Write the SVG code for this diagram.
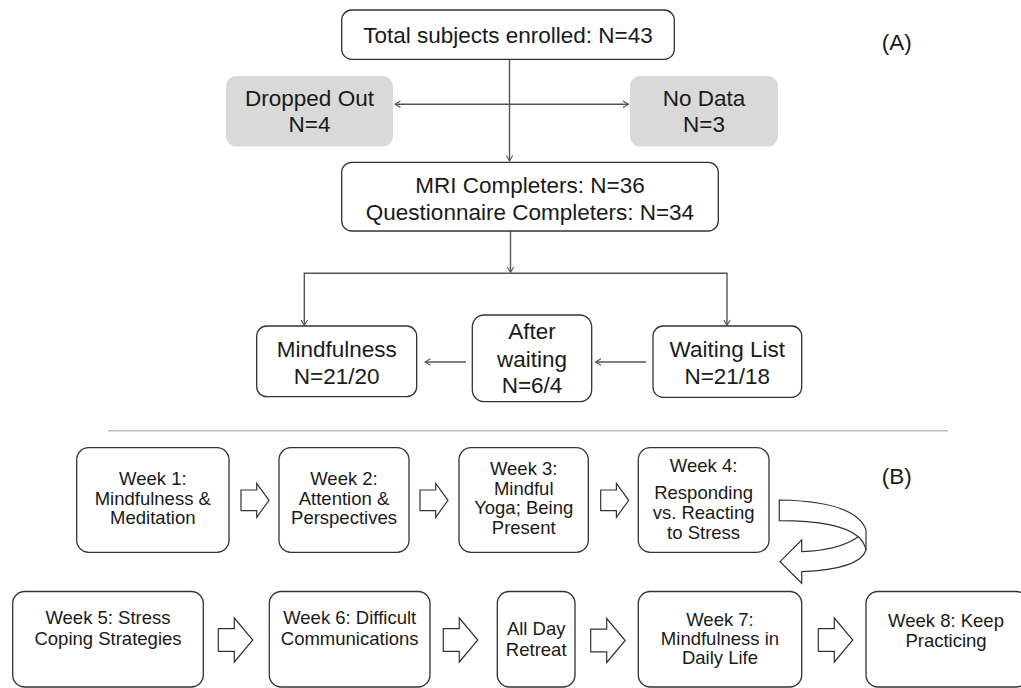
<svg xmlns="http://www.w3.org/2000/svg" width="1021" height="688" viewBox="0 0 1021 688">
<style>
text{font-family:"Liberation Sans",Arial,Helvetica,sans-serif;fill:#1a1a1a;text-anchor:middle}
.a{font-size:22.5px}
.b{font-size:18.5px}
.box{fill:#fff;stroke:#333;stroke-width:1.3}
.gray{fill:#d9d9d9;stroke:none}
.con{fill:none;stroke:#555;stroke-width:1.4}
.blk{fill:#fff;stroke:#333;stroke-width:1.2;stroke-linejoin:miter}
.sep{stroke:#bdbdbd;stroke-width:1.6}
</style>
<defs>
<marker id="ah" viewBox="0 0 8 8" refX="6.5" refY="4" markerWidth="8" markerHeight="8" markerUnits="userSpaceOnUse" orient="auto-start-reverse">
<path d="M1,0.8 L6.5,4 L1,7.2" fill="none" stroke="#555" stroke-width="1.1"/>
</marker>
<path id="ba1" d="M0,-10.3 H15.7 V-17 L28,0 L15.7,17 V10.3 H0 Z"/>
<path id="ba2" d="M0,-11.3 H16 V-22 L34.5,0 L16,22 V11.3 H0 Z"/>
</defs>

<g id="connectors">
<path class="con" d="M509.5,59.3 V161" marker-end="url(#ah)"/>
<path class="con" d="M395,104.3 H628.5" marker-start="url(#ah)" marker-end="url(#ah)"/>
<path class="con" d="M510.5,231 V272.5" marker-end="url(#ah)"/>
<path class="con" d="M510.5,273.3 H304.3 V325.5" marker-end="url(#ah)"/>
<path class="con" d="M510.5,273.3 H727 V325.5" marker-end="url(#ah)"/>
<path class="con" d="M646,362 H595.5" marker-end="url(#ah)"/>
<path class="con" d="M466,362 H425" marker-end="url(#ah)"/>
<line class="sep" x1="108" y1="430.7" x2="948" y2="430.7"/>
<use href="#ba1" class="blk" x="241" y="500.3"/>
<use href="#ba1" class="blk" x="420" y="500.3"/>
<use href="#ba1" class="blk" x="600.7" y="500.3"/>
<use href="#ba2" class="blk" x="218.3" y="640"/>
<use href="#ba2" class="blk" x="443.3" y="640"/>
<use href="#ba2" class="blk" x="590.7" y="640.5"/>
<use href="#ba2" class="blk" x="818.3" y="640"/>
<path class="blk" d="M779.3,500 C820,500.7 858,507 866,530 L866,550 C862,563 840,570 801.7,571.7 L801.7,583.3 L780,561.7 L801.7,540 L801.7,551.7 C826.7,550.7 846.7,545 858.3,536.7 C846.7,526.7 820,520.7 779.3,520.7 Z"/>
<path class="blk" d="M858.3,536.7 C862,540 865,545 866,550" fill="none"/>
</g>

<text class="a" x="896.7" y="49.5">(A)</text>
<text class="a" x="896.7" y="483.5">(B)</text>

<g id="n-total"><rect class="box" x="341.7" y="10" width="332.6" height="49.3" rx="10"/><text class="a" x="508" y="43">Total subjects enrolled: N=43</text></g>
<g id="n-dropped"><rect class="gray" x="226" y="76" width="167" height="70.5" rx="10"/><text class="a" x="309.5" y="106">Dropped Out</text><text class="a" x="309.5" y="131.5">N=4</text></g>
<g id="n-nodata"><rect class="gray" x="630" y="76" width="148" height="70.5" rx="10"/><text class="a" x="704" y="106">No Data</text><text class="a" x="704" y="131.5">N=3</text></g>
<g id="n-mri"><rect class="box" x="341.7" y="162.3" width="376.6" height="68.7" rx="10"/><text class="a" x="530" y="192.7">MRI Completers: N=36</text><text class="a" x="530" y="220.2">Questionnaire Completers: N=34</text></g>
<g id="n-mind"><rect class="box" x="256.7" y="326" width="160" height="70.7" rx="10"/><text class="a" x="336.7" y="356.7">Mindfulness</text><text class="a" x="336.7" y="384">N=21/20</text></g>
<g id="n-after"><rect class="box" x="472.3" y="315" width="119.4" height="86.7" rx="12"/><text class="a" x="532" y="339.3">After</text><text class="a" x="532" y="366.5">waiting</text><text class="a" x="532" y="393.3">N=6/4</text></g>
<g id="n-wait"><rect class="box" x="653" y="326" width="148.7" height="71.3" rx="10"/><text class="a" x="727.3" y="356.7">Waiting List</text><text class="a" x="727.3" y="384">N=21/18</text></g>

<g id="w1"><rect class="box" x="76.7" y="447.7" width="152.3" height="104.6" rx="12"/><text class="b" x="152.8" y="485">Week 1:</text><text class="b" x="152.8" y="504.5">Mindfulness &amp;</text><text class="b" x="152.8" y="524">Meditation</text></g>
<g id="w2"><rect class="box" x="279" y="447.7" width="130" height="104.6" rx="12"/><text class="b" x="344" y="485">Week 2:</text><text class="b" x="344" y="504.5">Attention &amp;</text><text class="b" x="344" y="524">Perspectives</text></g>
<g id="w3"><rect class="box" x="459" y="447.7" width="129.3" height="104.6" rx="12"/><text class="b" x="523.7" y="475">Week 3:</text><text class="b" x="523.7" y="494.7">Mindful</text><text class="b" x="523.7" y="514.3">Yoga; Being</text><text class="b" x="523.7" y="534">Present</text></g>
<g id="w4"><rect class="box" x="638.3" y="447.7" width="130.7" height="104.6" rx="12"/><text class="b" x="703.6" y="471.7">Week 4:</text><text class="b" x="703.6" y="499.3">Responding</text><text class="b" x="703.6" y="519">vs. Reacting</text><text class="b" x="703.6" y="538.5">to Stress</text></g>
<g id="w5"><rect class="box" x="12.7" y="591.5" width="190.6" height="95.5" rx="12"/><text class="b" x="108" y="624">Week 5: Stress</text><text class="b" x="108" y="645">Coping Strategies</text></g>
<g id="w6"><rect class="box" x="269.3" y="591.5" width="160.7" height="95.5" rx="12"/><text class="b" x="349.7" y="624">Week 6: Difficult</text><text class="b" x="349.7" y="645">Communications</text></g>
<g id="wr"><rect class="box" x="497.3" y="591.5" width="77.7" height="95.5" rx="12"/><text class="b" x="536.2" y="635">All Day</text><text class="b" x="536.2" y="655.5">Retreat</text></g>
<g id="w7"><rect class="box" x="638.3" y="591.5" width="163.4" height="95.5" rx="12"/><text class="b" x="720" y="625.7">Week 7:</text><text class="b" x="720" y="644.8">Mindfulness in</text><text class="b" x="720" y="664">Daily Life</text></g>
<g id="w8"><rect class="box" x="866" y="591.5" width="162" height="95.5" rx="12"/><text class="b" x="946" y="627">Week 8: Keep</text><text class="b" x="946" y="647">Practicing</text></g>
</svg>
